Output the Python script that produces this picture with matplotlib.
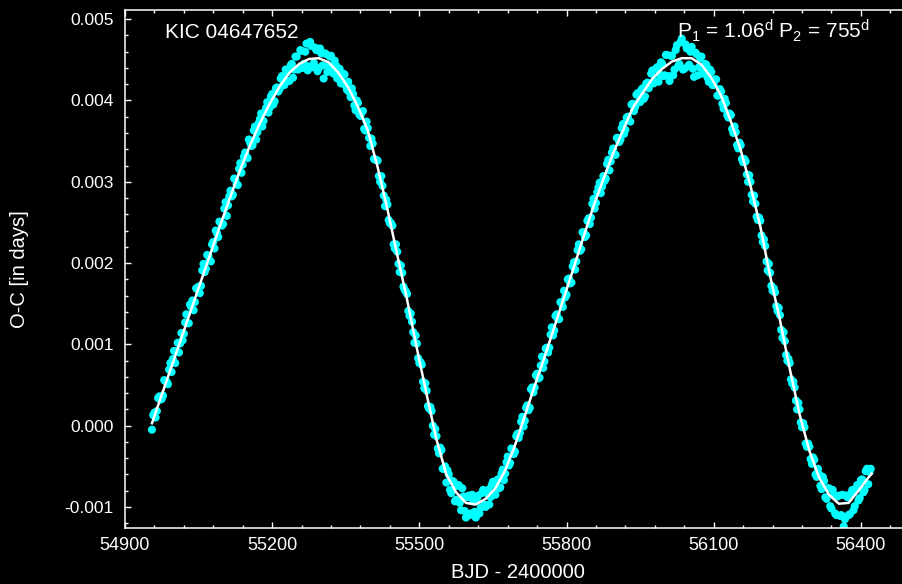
import matplotlib.pyplot as plt
from matplotlib.ticker import MultipleLocator

plt.rcParams['font.family'] = ['Liberation Sans', 'DejaVu Sans']
plt.rcParams['mathtext.fontset'] = 'custom'
plt.rcParams['mathtext.rm'] = 'Liberation Sans'
plt.rcParams['mathtext.it'] = 'Liberation Sans'

# fitted O-C curve (BJD - 2400000, O-C in units of 1e-3 d)
fit_day = [54955, 54975, 54995, 55015, 55035, 55055, 55075, 55095, 55115, 55135,
           55155, 55175, 55195, 55215, 55235, 55255, 55275, 55295, 55315, 55335,
           55355, 55375, 55395, 55415, 55435, 55455, 55475, 55495, 55515, 55535,
           55555, 55575, 55595, 55615, 55635, 55655, 55675, 55695, 55715, 55735,
           55755, 55775, 55795, 55815, 55835, 55855, 55875, 55895, 55915, 55935,
           55955, 55975, 55995, 56015, 56035, 56055, 56075, 56095, 56115, 56135,
           56155, 56175, 56195, 56215, 56235, 56255, 56275, 56295, 56315, 56335,
           56355, 56375, 56395, 56415, 56422]
fit_oc = [0.03, 0.38, 0.73, 1.08, 1.43, 1.78, 2.13, 2.48, 2.82, 3.15,
          3.45, 3.72, 3.96, 4.17, 4.34, 4.45, 4.51, 4.52, 4.47, 4.34,
          4.16, 3.92, 3.63, 3.18, 2.66, 2.10, 1.55, 0.95, 0.38, -0.17,
          -0.60, -0.82, -0.95, -0.97, -0.90, -0.77, -0.55, -0.24, 0.12, 0.49,
          0.84, 1.21, 1.58, 1.95, 2.33, 2.70, 3.03, 3.35, 3.63, 3.91,
          4.09, 4.27, 4.39, 4.48, 4.52, 4.52, 4.44, 4.28, 4.06, 3.74,
          3.39, 2.95, 2.45, 1.84, 1.30, 0.70, 0.14, -0.31, -0.64, -0.85,
          -0.96, -0.95, -0.80, -0.64, -0.59]

# measured O-C values, one every 5 days from 54955
obs_start, obs_step = 54955, 5
obs_oc = [
    -0.05, 0.16, 0.18, 0.36, 0.33, 0.56, 0.54, 0.69, 0.66, 0.92, 0.92, 0.90,
    1.14, 1.13, 1.37, 1.26, 1.46, 1.42, 1.69, 1.71, 1.72, 1.99, 1.93, 2.09,
    2.02, 2.26, 2.40, 2.32, 2.50, 2.48, 2.75, 2.71, 2.89, 2.84, 3.03, 2.96,
    3.23, 3.21, 3.36, 3.29, 3.48, 3.45, 3.68, 3.61, 3.77, 3.68, 3.86, 3.98,
    3.91, 4.08, 3.99, 4.16, 4.14, 4.30, 4.19, 4.35, 4.24, 4.45, 4.38, 4.54,
    4.39, 4.61, 4.45, 4.70, 4.42, 4.67, 4.46, 4.62, 4.40, 4.58, 4.27, 4.57,
    4.43, 4.55, 4.33, 4.43, 4.36, 4.21, 4.33, 4.18, 4.23, 4.04, 4.08, 3.88,
    3.97, 3.81, 3.87, 3.63, 3.66, 3.44, 3.47, 3.27, 3.26, 3.00, 2.95, 2.70,
    2.72, 2.49, 2.46, 2.18, 2.14, 1.89, 1.88, 1.67, 1.62, 1.35, 1.28, 1.02,
    1.01, 0.77, 0.75, 0.46, 0.43, 0.21, 0.18, -0.11, -0.13, -0.34, -0.30, -0.53,
    -0.70, -0.60, -0.83, -0.69, -0.91, -0.73, -1.04, -0.87, -1.13, -0.86, -1.08, -0.93,
    -1.13, -0.86, -1.01, -0.79, -1.00, -0.79, -0.88, -0.69, -0.85, -0.66, -0.76, -0.54,
    -0.59, -0.38, -0.46, -0.29, -0.32, -0.10, -0.09, 0.11, 0.06, 0.25, 0.22, 0.47,
    0.47, 0.64, 0.59, 0.85, 0.79, 0.96, 0.96, 1.21, 1.17, 1.37, 1.31, 1.51,
    1.66, 1.61, 1.81, 1.76, 2.01, 2.02, 2.23, 2.17, 2.38, 2.34, 2.55, 2.56,
    2.79, 2.74, 2.93, 2.86, 3.07, 3.04, 3.27, 3.25, 3.41, 3.33, 3.54, 3.52,
    3.71, 3.64, 3.80, 3.74, 3.96, 3.92, 4.09, 3.98, 4.15, 4.05, 4.22, 4.20,
    4.37, 4.24, 4.41, 4.32, 4.45, 4.31, 4.56, 4.24, 4.55, 4.38, 4.68, 4.45,
    4.76, 4.39, 4.64, 4.44, 4.66, 4.29, 4.57, 4.41, 4.54, 4.34, 4.44, 4.23,
    4.35, 4.19, 4.26, 4.06, 4.11, 3.90, 3.97, 3.79, 3.82, 3.60, 3.61, 3.41,
    3.45, 3.24, 3.25, 3.00, 3.00, 2.76, 2.73, 2.53, 2.52, 2.26, 2.21, 1.91,
    1.88, 1.66, 1.64, 1.41, 1.36, 1.08, 1.04, 0.80, 0.77, 0.52, 0.47, 0.20,
    0.20, -0.02, -0.02, -0.26, -0.26, -0.47, -0.42, -0.63, -0.60, -0.78, -0.68, -0.90,
    -0.77, -1.02, -0.85, -1.10, -0.86, -1.10, -1.24, -0.86, -1.10, -0.83, -1.04, -0.78,
    -0.92, -0.67, -0.82, -0.56, -0.72, -0.53,
]
# interleaved measurements, one every 5 days from 54957.5
obs2_start = 54957.5
obs2_oc = [
    0.13, 0.10, 0.34, 0.32, 0.37, 0.55, 0.51, 0.77, 0.82, 0.77, 1.02, 1.01,
    1.05, 1.27, 1.26, 1.49, 1.54, 1.52, 1.68, 1.63, 1.91, 1.89, 2.10, 2.03,
    2.23, 2.18, 2.37, 2.51, 2.46, 2.67, 2.58, 2.82, 2.82, 3.04, 2.97, 3.16,
    3.11, 3.31, 3.31, 3.52, 3.44, 3.63, 3.52, 3.72, 3.84, 3.75, 3.91, 3.85,
    4.05, 3.95, 4.15, 4.11, 4.27, 4.19, 4.38, 4.24, 4.43, 4.28, 4.54, 4.38,
    4.62, 4.40, 4.60, 4.37, 4.72, 4.41, 4.65, 4.36, 4.64, 4.43, 4.58, 4.35,
    4.54, 4.38, 4.49, 4.27, 4.39, 4.24, 4.32, 4.13, 4.10, 4.15, 3.94, 4.00,
    3.83, 3.86, 3.65, 3.74, 3.54, 3.53, 3.28, 3.27, 3.07, 3.07, 2.83, 2.78,
    2.53, 2.49, 2.23, 2.23, 1.99, 1.97, 1.71, 1.65, 1.41, 1.38, 1.15, 1.11,
    0.83, 0.78, 0.54, 0.52, 0.24, 0.23, 0.00, -0.04, -0.28, -0.27, -0.53, -0.50,
    -0.55, -0.79, -0.68, -0.93, -0.74, -0.95, -0.77, -1.05, -0.88, -1.10, -0.85, -1.06,
    -0.89, -1.08, -0.83, -0.97, -0.83, -0.97, -0.73, -0.84, -0.68, -0.77, -0.59, -0.67,
    -0.45, -0.49, -0.28, -0.35, -0.13, -0.15, 0.05, -0.01, 0.22, 0.19, 0.45, 0.41,
    0.62, 0.58, 0.74, 0.71, 0.95, 0.90, 1.12, 1.11, 1.35, 1.31, 1.52, 1.46,
    1.58, 1.80, 1.75, 1.96, 1.92, 2.16, 2.15, 2.38, 2.32, 2.52, 2.48, 2.73,
    2.67, 2.87, 2.99, 2.94, 3.01, 3.22, 3.14, 3.36, 3.34, 3.54, 3.49, 3.66,
    3.59, 3.79, 3.75, 3.95, 3.87, 4.07, 3.98, 4.13, 4.02, 4.21, 4.15, 4.33,
    4.21, 4.39, 4.23, 4.47, 4.30, 4.56, 4.30, 4.55, 4.31, 4.62, 4.42, 4.72,
    4.38, 4.69, 4.42, 4.60, 4.39, 4.59, 4.31, 4.52, 4.33, 4.45, 4.28, 4.38,
    4.19, 4.26, 4.06, 4.14, 3.96, 4.02, 3.82, 3.84, 3.65, 3.68, 3.45, 3.48,
    3.28, 3.28, 3.09, 3.08, 2.84, 2.83, 2.57, 2.56, 2.34, 2.29, 2.02, 1.99,
    1.72, 1.69, 1.47, 1.45, 1.18, 1.15, 0.87, 0.82, 0.57, 0.54, 0.31, 0.28,
    0.04, 0.03, -0.22, -0.22, -0.41, -0.39, -0.60, -0.53, -0.74, -0.63, -0.88, -0.77,
    -0.99, -0.79, -1.08, -0.87, -1.11, -0.85, -1.15, -0.88, -1.09, -0.79, -0.99, -0.73,
    -0.89, -0.66, -0.79, -0.53, -0.57,
]
obs_day = [obs_start + obs_step * i for i in range(len(obs_oc))]
obs2_day = [obs2_start + obs_step * i for i in range(len(obs2_oc))]

fig = plt.figure(figsize=(9.03, 5.84), dpi=100, facecolor='black')
ax = fig.add_axes([0.1384, 0.0964, 0.8693, 0.8865], facecolor='black')

ax.scatter(obs_day + obs2_day, [v * 1e-3 for v in obs_oc + obs2_oc], s=34,
           color='#00ffff', edgecolors='none', zorder=2)
ax.plot(fit_day, [v * 1e-3 for v in fit_oc], color='white', lw=1.8, zorder=3)

ax.set_xlim(54900, 56500)
ax.set_ylim(-0.001255, 0.005113)
ax.xaxis.set_major_locator(MultipleLocator(300))
ax.xaxis.set_minor_locator(MultipleLocator(60))
ax.yaxis.set_major_locator(MultipleLocator(0.001))
ax.yaxis.set_minor_locator(MultipleLocator(0.0002))
ax.yaxis.set_major_formatter(plt.FormatStrFormatter('%.3f'))

for s in ax.spines.values():
    s.set_color('white')
    s.set_linewidth(1.1)
ax.tick_params(which='both', direction='in', colors='white', top=True, right=True,
               width=1.0)
ax.tick_params(which='major', length=4)
ax.tick_params(which='minor', length=2.2)
ax.tick_params(axis='y', pad=8, labelsize=12.5)
ax.tick_params(axis='x', pad=7, labelsize=13)

ax.set_xlabel('BJD - 2400000', color='white', fontsize=14.5)
ax.set_ylabel('O-C [in days]', color='white', fontsize=14.5)
ax.xaxis.set_label_coords(0.5, -0.068)
ax.yaxis.set_label_coords(-0.122, 0.5)

ax.text(0.051, 0.946, 'KIC 04647652', transform=ax.transAxes, color='white',
        fontsize=15, ha='left', va='baseline')
ax.text(0.949, 0.946, r'P$_1$ = 1.06$^{\rm d}$ P$_2$ = 755$^{\rm d}$',
        transform=ax.transAxes, color='white', fontsize=15, ha='right', va='baseline')

fig.savefig('out.png', dpi=100, facecolor='black')
